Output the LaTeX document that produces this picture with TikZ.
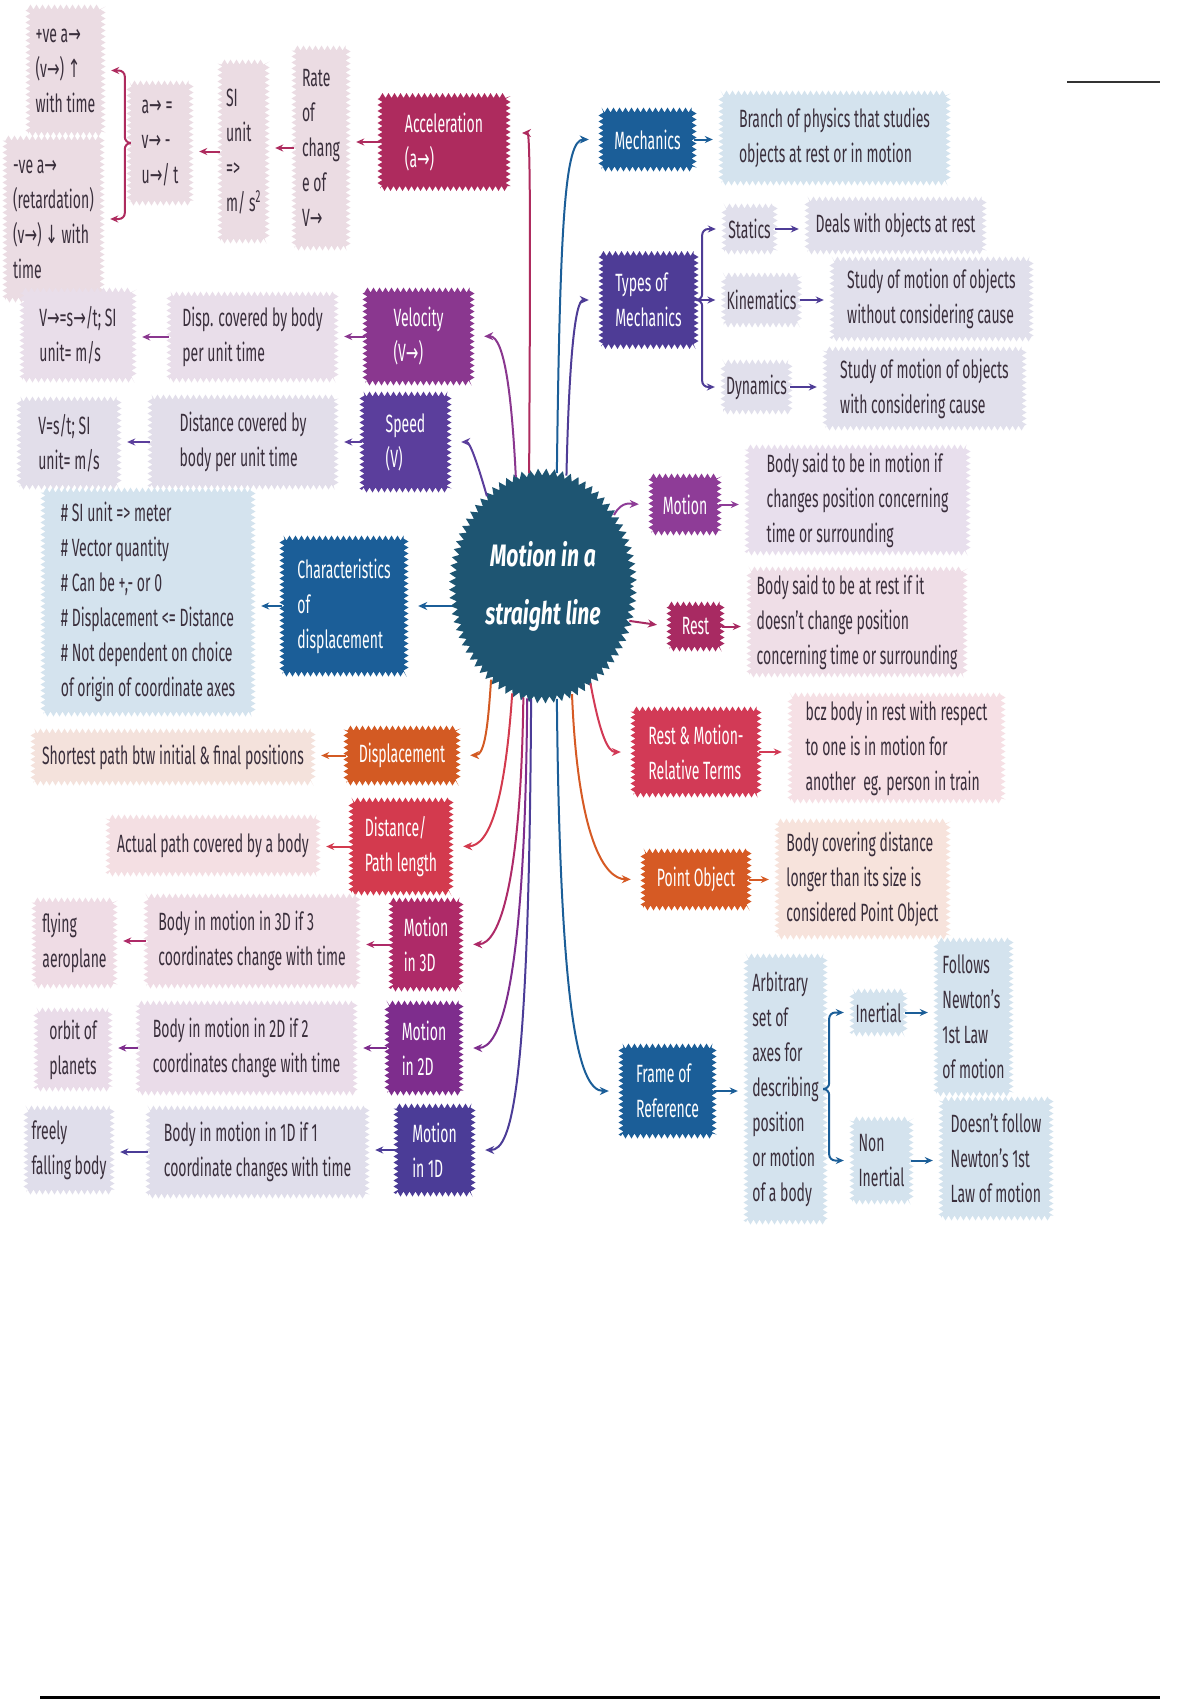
\documentclass[tikz,border=0pt]{standalone}
\usepackage{fontspec}
\setmainfont{Fira Sans}[FakeStretch=0.56]
\newfontfamily\symf{DejaVu Sans}[FakeStretch=0.6]
\newfontfamily\ttlf{Fira Sans}[FakeStretch=0.68]
\usetikzlibrary{shapes.geometric,decorations.pathmorphing,arrows.meta}
\newcommand{\vra}{{\symf →}}
\newcommand{\upa}{{\symf ↑}}
\newcommand{\dna}{{\symf ↓}}
% dark colours
\definecolor{ctr}{HTML}{1E5572}
\definecolor{accc}{HTML}{AE2B5E}
\definecolor{velc}{HTML}{8A378F}
\definecolor{spdc}{HTML}{5B3E9C}
\definecolor{bluc}{HTML}{1B5E98}
\definecolor{orgc}{HTML}{D35A23}
\definecolor{dstc}{HTML}{D33A4E}
\definecolor{mthree}{HTML}{AE2A68}
\definecolor{mtwo}{HTML}{7E2D8D}
\definecolor{mone}{HTML}{4B3C97}
\definecolor{typc}{HTML}{4E3C96}
\definecolor{motc}{HTML}{8E3C97}
\definecolor{rstc}{HTML}{A82A62}
\definecolor{relc}{HTML}{D23A56}
\definecolor{pntc}{HTML}{D65A24}
% light colours
\definecolor{lacc}{HTML}{EBDCE3}
\definecolor{lvel}{HTML}{E9DEEA}
\definecolor{lspd}{HTML}{E2DEEA}
\definecolor{lblu}{HTML}{D4E3EE}
\definecolor{lorg}{HTML}{F4E2DC}
\definecolor{ldst}{HTML}{F4DFE3}
\definecolor{lmthree}{HTML}{EFDCE5}
\definecolor{lmtwo}{HTML}{EADCE9}
\definecolor{lmone}{HTML}{E0DEEB}
\definecolor{ltyp}{HTML}{E1E0EC}
\definecolor{lmot}{HTML}{E8DFED}
\definecolor{lrst}{HTML}{EFDEE7}
\definecolor{lrel}{HTML}{F6E0E5}
\definecolor{lpnt}{HTML}{F7E3DC}
\definecolor{txt}{HTML}{3A2F3C}
\begin{document}
\begin{tikzpicture}[x=1pt,y=-1pt,
  box/.style={inner sep=3pt, align=left, font={\fontsize{25}{35}\selectfont},
    decorate, decoration={zigzag,segment length=6pt,amplitude=2.5pt}},
  lb/.style={box, fill=#1, text=txt},
  db/.style={box, fill=#1, text=white},
  sz/.style 2 args={minimum width=#1, minimum height=#2},
  cn/.style={line width=2pt, draw=#1, -{Stealth[length=9pt,width=8pt]}, shorten >=12pt},
  ba/.style={line width=2pt, draw=#1, -{Stealth[length=8pt,width=7pt]}, shorten >=8pt},
]
\useasboundingbox (0,0) rectangle (1200,1700);
\fill[white] (0,0) rectangle (1200,1700);

% ---------- centre ----------
\node[ellipse, fill=ctr, minimum width=181, minimum height=228, inner sep=0pt,
  decorate, decoration={zigzag,segment length=8pt,amplitude=3.5pt},
  font={\ttlf\bfseries\itshape\fontsize{31}{58}\selectfont}, text=white, align=center]
  (c) at (543,586) {Motion in a\\straight line};

% ---------- acceleration branch ----------
\node[lb=lacc, sz={75}{127}] (pve) at (65.5,70.5) {+ve a\vra\\(v\vra) \upa\\with time};
\node[lb=lacc, sz={97}{162}] (nve) at (53.5,219) {-ve a\vra\\(retardation)\\(v\vra) \dna{} with\\time};
\node[lb=lacc, sz={62}{120}] (aeq) at (160,143) {a\vra{} =\\v\vra{} -\\u\vra/ t};
\node[lb=lacc, sz={47}{179}] (siu) at (243.5,151.5) {SI\\unit\\=>\\m/ s\textsuperscript{2}};
\node[lb=lacc, sz={54}{200}] (rate) at (321,148) {Rate\\of\\chang\\e of\\V\vra};
\node[db=accc, sz={128}{93}] (acc) at (444,142) {Acceleration\\(a\vra)};
\coordinate (acctip) at (510,133);

% ---------- velocity ----------
\node[lb=lvel, sz={112}{90}] (vform) at (78,335) {V\vra=s\vra/t; SI\\unit= m/s};
\node[lb=lvel, sz={167}{86}] (vdesc) at (252.5,337) {Disp. covered by body\\per unit time};
\node[db=velc, sz={107}{93}] (vel) at (418.5,336.5) {Velocity\\(V\vra)};

% ---------- speed ----------
\node[lb=lspd, sz={100}{88}] (sform) at (69,443) {V=s/t; SI\\unit= m/s};
\node[lb=lspd, sz={186}{90}] (sdesc) at (243,442) {Distance covered by\\body per unit time};
\node[db=spdc, sz={87}{96}] (spd) at (405.5,442) {Speed\\(V)};

% ---------- characteristics ----------
\node[lb=lblu, sz={210}{224}] (chl) at (148,602) {\# SI unit => meter\\\# Vector quantity\\\# Can be +,- or 0\\\# Displacement <= Distance\\\# Not dependent on choice\\of origin of coordinate axes};
\node[db=bluc, sz={124}{136}] (char) at (344,606) {Characteristics\\of\\displacement};

% ---------- displacement / distance ----------
\node[lb=lorg, sz={280}{52}] (dspd) at (173,757) {Shortest path btw initial \& final positions};
\node[db=orgc, sz={112}{55}] (disp) at (402,755.5) {Displacement};
\node[lb=ldst, sz={210}{57}] (distd) at (213,845.5) {Actual path covered by a body};
\node[db=dstc, sz={100}{93}] (dist) at (401,846.5) {Distance/\\Path length};

% ---------- motion in 3D / 2D / 1D ----------
\node[lb=lmthree, sz={81}{86}] (m3ex) at (74.5,943) {flying\\aeroplane};
\node[lb=lmthree, sz={212}{90}] (m3d) at (252,941) {Body in motion in 3D if 3\\coordinates change with time};
\node[db=mthree, sz={70}{89}] (m3) at (426,944.5) {Motion\\in 3D};
\node[lb=lmtwo, sz={74}{79}] (m2ex) at (73,1049.5) {orbit of\\planets};
\node[lb=lmtwo, sz={217}{90}] (m2d) at (246.5,1048) {Body in motion in 2D if 2\\coordinates change with time};
\node[db=mtwo, sz={74}{90}] (m2) at (424,1048) {Motion\\in 2D};
\node[lb=lmone, sz={86}{84}] (m1ex) at (69,1150) {freely\\falling body};
\node[lb=lmone, sz={219}{88}] (m1d) at (257.5,1152) {Body in motion in 1D if 1\\coordinate changes with time};
\node[db=mone, sz={77}{88}] (m1) at (434.5,1150) {Motion\\in 1D};

% ---------- right side ----------
\node[db=bluc, sz={93}{59}] (mech) at (647.5,139.5) {Mechanics};
\node[lb=lblu, sz={227}{90}] (mechd) at (834.5,138) {Branch of physics that studies\\objects at rest or in motion};
\node[db=typc, sz={95}{93}] (types) at (648.5,300) {Types of\\Mechanics};
\node[lb=ltyp, sz={51}{46}] (stat) at (749.5,229) {Statics};
\node[lb=ltyp, sz={177}{53}] (statd) at (895.5,225.5) {Deals with objects at rest};
\node[lb=ltyp, sz={75}{50}] (kin) at (761.5,300) {Kinematics};
\node[lb=ltyp, sz={199}{80}] (kind) at (931.5,299) {Study of motion of objects\\without considering cause};
\node[lb=ltyp, sz={65}{50}] (dyn) at (756.5,387) {Dynamics};
\node[lb=ltyp, sz={199}{79}] (dynd) at (924.5,388.5) {Study of motion of objects\\with considering cause};
\node[db=motc, sz={68}{57}] (mot) at (685,504.5) {Motion};
\node[lb=lmot, sz={221}{106}] (motd) at (857.5,500) {Body said to be in motion if\\changes position concerning\\time or surrounding};
\node[db=rstc, sz={53}{45}] (rest) at (695.5,626.5) {Rest};
\node[lb=lrst, sz={216}{106}] (restd) at (857,622) {Body said to be at rest if it\\doesn't change position\\concerning time or surrounding};
\node[db=relc, sz={126}{86}] (rel) at (696,752) {Rest \& Motion-\\Relative Terms};
\node[lb=lrel, sz={213}{106}] (reld) at (896.5,748) {bcz body in rest with respect\\to one is in motion for\\another~ eg. person in train};
\node[db=pntc, sz={106}{57}] (pnt) at (696,879.5) {Point Object};
\node[lb=lpnt, sz={171}{116}] (pntd) at (862.5,879) {Body covering distance\\longer than its size is\\considered Point Object};
\node[db=bluc, sz={93}{90}] (frame) at (667.5,1091) {Frame of\\Reference};
\node[lb=lblu, sz={79}{266}] (arb) at (785.5,1089) {Arbitrary\\set of\\axes for\\describing\\position\\or motion\\of a body};
\node[lb=lblu, sz={53}{43}] (iner) at (878.5,1012.5) {Inertial};
\node[lb=lblu, sz={75}{154}] (fol) at (973.5,1017) {Follows\\Newton's\\1st Law\\of motion};
\node[lb=lblu, sz={59}{83}] (non) at (881.5,1160.5) {Non\\Inertial};
\node[lb=lblu, sz={110}{119}] (nfol) at (996,1158.5) {Doesn't follow\\Newton's 1st\\Law of motion};

% ---------- connectors from the centre ----------
\draw[cn=accc] (c.97) .. controls (530,300) and (531,133) .. (acctip);
\draw[cn=bluc] (c.83) .. controls (560,220) and (565,139.5) .. (mech.west);
\draw[cn=typc] (c.78) .. controls (569,360) and (575,300) .. (types.west);
\draw[cn=velc] (c.104) .. controls (512,400) and (505,336) .. (vel.east);
\draw[cn=spdc] (c.122) .. controls (478,465) and (470,442) .. (spd.east);
\draw[cn=bluc] (char.east -| c.west) -- (char.east);
\draw[cn=orgc] (c.241) .. controls (488,725) and (485,755) .. (disp.east);
\draw[cn=dstc] (c.254) .. controls (505,800) and (490,846) .. (dist.east);
\draw[cn=mthree] (c.260) .. controls (521,880) and (500,944) .. (m3.east);
\draw[cn=mtwo] (c.262) .. controls (525,990) and (500,1048) .. (m2.east);
\draw[cn=mone] (c.264) .. controls (529,1090) and (512,1150) .. (m1.east);
\draw[cn=bluc] (c.277) .. controls (560,1010) and (578,1091) .. (frame.west);
\draw[cn=pntc] (c.285) .. controls (578,840) and (605,879) .. (pnt.west);
\draw[cn=relc] (c.296) .. controls (600,735) and (608,752) .. (rel.west);
\draw[cn=rstc] (c.-22) -- (rest.west);
\draw[cn=motc] (c.45) .. controls (622,500) and (632,504) .. (mot.west);

% ---------- branch arrows, left ----------
\draw[ba=accc] (acc.west) -- (acc.west -| rate.east);
\draw[ba=accc] (rate.west) -- (rate.west -| siu.east);
\draw[ba=accc] (siu.west) -- (siu.west -| aeq.east);
\draw[ba=accc, rounded corners=6pt] (aeq.west) -- ++(-4,0) |- (pve.east);
\draw[ba=accc, rounded corners=6pt] (aeq.west) -- ++(-4,0) |- (nve.east);
\draw[ba=velc] (vel.west) -- (vel.west -| vdesc.east);
\draw[ba=velc] (vdesc.west) -- (vdesc.west -| vform.east);
\draw[ba=spdc] (spd.west) -- (spd.west -| sdesc.east);
\draw[ba=spdc] (sdesc.west) -- (sdesc.west -| sform.east);
\draw[ba=bluc] (char.west) -- (char.west -| chl.east);
\draw[ba=orgc] (disp.west) -- (disp.west -| dspd.east);
\draw[ba=dstc] (dist.west) -- (dist.west -| distd.east);
\draw[ba=mthree] (m3.west) -- (m3.west -| m3d.east);
\draw[ba=mthree] (m3d.west) -- (m3d.west -| m3ex.east);
\draw[ba=mtwo] (m2.west) -- (m2.west -| m2d.east);
\draw[ba=mtwo] (m2d.west) -- (m2d.west -| m2ex.east);
\draw[ba=mone] (m1.west) -- (m1.west -| m1d.east);
\draw[ba=mone] (m1d.west) -- (m1d.west -| m1ex.east);

% ---------- branch arrows, right ----------
\draw[ba=bluc] (mech.east) -- (mech.east -| mechd.west);
\draw[ba=typc, rounded corners=6pt] (types.east) -- ++(6,0) |- (stat.west);
\draw[ba=typc] (types.east) -- (kin.west);
\draw[ba=typc, rounded corners=6pt] (types.east) -- ++(6,0) |- (dyn.west);
\draw[ba=typc] (stat.east) -- (stat.east -| statd.west);
\draw[ba=typc] (kin.east) -- (kin.east -| kind.west);
\draw[ba=typc] (dyn.east) -- (dyn.east -| dynd.west);
\draw[ba=motc] (mot.east) -- (mot.east -| motd.west);
\draw[ba=rstc] (rest.east) -- (rest.east -| restd.west);
\draw[ba=relc] (rel.east) -- (rel.east -| reld.west);
\draw[ba=pntc] (pnt.east) -- (pnt.east -| pntd.west);
\draw[ba=bluc] (frame.east) -- (frame.east -| arb.west);
\draw[ba=bluc, rounded corners=6pt] (arb.east) -- ++(4,0) |- (iner.west);
\draw[ba=bluc, rounded corners=6pt] (arb.east) -- ++(4,0) |- (non.west);
\draw[ba=bluc] (iner.east) -- (iner.east -| fol.west);
\draw[ba=bluc] (non.east) -- (non.east -| nfol.west);

% ---------- page rules ----------
\draw[line width=2.5pt, black!80] (1067,82) -- (1160,82);
\draw[line width=3pt, black] (40,1697) -- (1160,1697);
\end{tikzpicture}
\end{document}
